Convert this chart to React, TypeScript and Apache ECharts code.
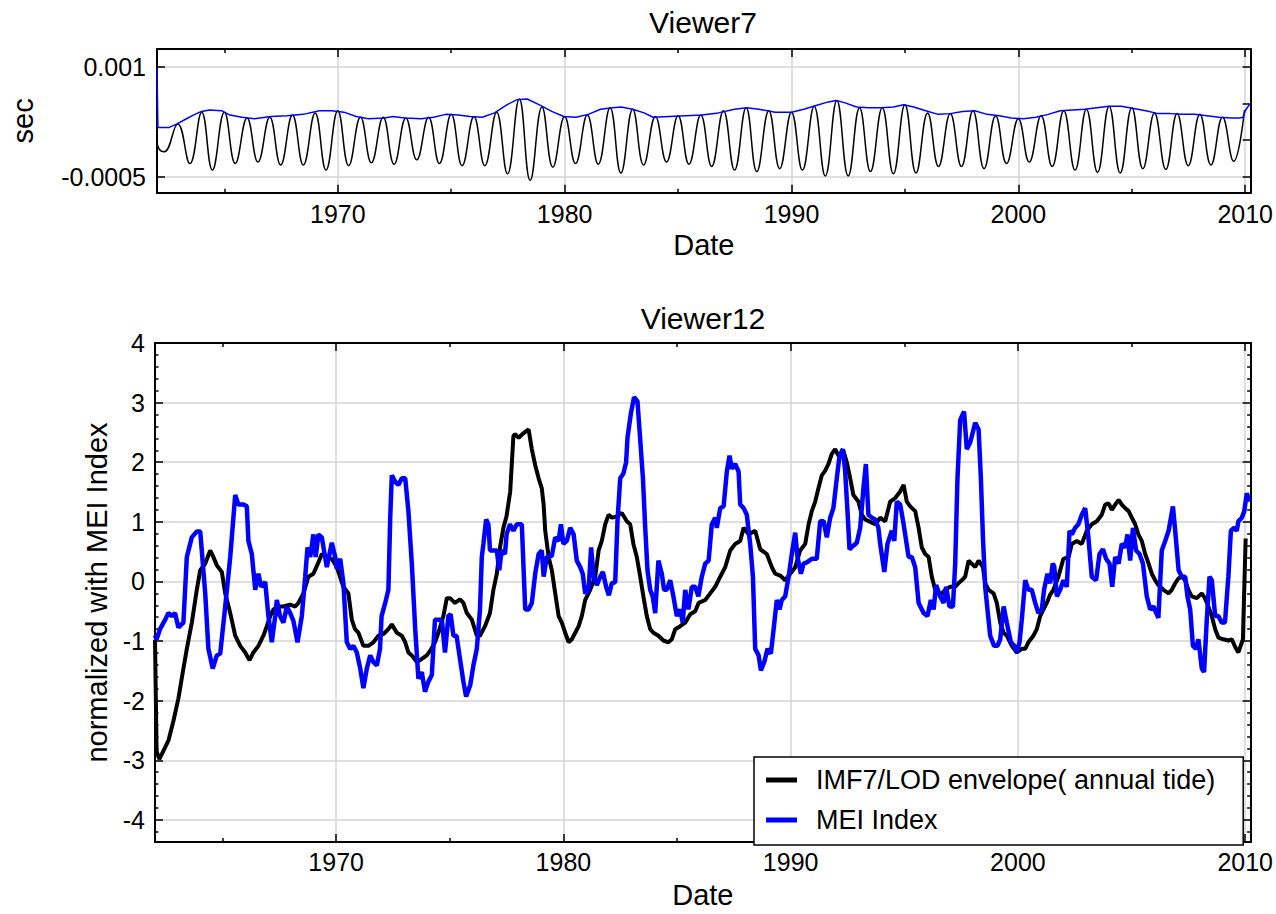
import React, { useEffect, useRef } from "react";
import * as echarts from "echarts";

const FONT = '"Liberation Sans", Arial, Helvetica, sans-serif';

// ---- Shared time axis (decimal years) ----
const yearMin = 1962.03;
const yearMax = 2010.24;
const decadeTicks = [1970, 1980, 1990, 2000, 2010];
const halfDecadeTicks = [1965, 1975, 1985, 1995, 2005];

// ---- Viewer7: IMF7 of LOD (sec) ----
const secMin = -0.000718;
const secMax = 0.001241;
const secLabelTicks = [-0.0005, 0.001];
const secAllTicks = [-0.0005, 0, 0.0005, 0.001];

// annual tide turning points (year, sec)
const tideYears = [
  1962.03, 1962.12, 1962.35, 1962.94, 1963.48, 1964.0, 1964.47, 1965.0, 1965.48, 1966.0,
  1966.48, 1967.0, 1967.48, 1968.0, 1968.48, 1969.0, 1969.48, 1970.0, 1970.48, 1971.0,
  1971.48, 1972.0, 1972.48, 1973.0, 1973.48, 1974.0, 1974.48, 1975.0, 1975.48, 1976.0,
  1976.48, 1977.0, 1977.48, 1978.0, 1978.48, 1979.0, 1979.48, 1980.0, 1980.48, 1981.0,
  1981.48, 1982.0, 1982.48, 1983.0, 1983.48, 1984.0, 1984.49, 1985.0, 1985.48, 1986.0,
  1986.48, 1987.0, 1987.49, 1988.0, 1988.47, 1989.0, 1989.48, 1990.0, 1990.48, 1991.0,
  1991.49, 1992.0, 1992.5, 1993.0, 1993.48, 1994.0, 1994.49, 1995.0, 1995.49, 1996.0,
  1996.48, 1997.0, 1997.49, 1998.0, 1998.49, 1999.0, 1999.48, 2000.0, 2000.48, 2001.0,
  2001.49, 2002.0, 2002.5, 2003.0, 2003.49, 2004.0, 2004.49, 2005.0, 2005.49, 2006.0,
  2006.5, 2007.0, 2007.49, 2008.0, 2008.49, 2009.0, 2009.49, 2009.97,
];
const tideSec = [
  0.0, -0.00012, -0.00016, 0.00022, -0.00032, 0.00038, -0.00041, 0.00038, -0.00032, 0.0003,
  -0.0003, 0.00031, -0.00034, 0.00034, -0.00034, 0.00037, -0.00041, 0.0004, -0.00035, 0.00031,
  -0.00031, 0.00031, -0.00033, 0.0003, -0.00027, 0.00031, -0.00032, 0.00035, -0.00035, 0.00032,
  -0.00035, 0.00038, -0.00046, 0.00056, -0.00055, 0.00045, -0.00037, 0.00032, -0.00032, 0.00034,
  -0.00033, 0.00044, -0.00045, 0.00042, -0.00034, 0.00032, -0.0003, 0.00033, -0.00033, 0.00034,
  -0.00036, 0.0004, -0.00041, 0.00044, -0.00043, 0.0004, -0.00039, 0.00038, -0.00041, 0.00046,
  -0.00049, 0.00054, -0.00049, 0.00044, -0.00043, 0.00044, -0.00046, 0.00048, -0.00045, 0.00037,
  -0.00036, 0.00036, -0.00036, 0.0004, -0.00039, 0.00033, -0.00032, 0.00029, -0.0003, 0.00033,
  -0.00036, 0.0004, -0.00041, 0.00042, -0.00044, 0.00046, -0.00045, 0.00044, -0.00039, 0.00037,
  -0.0004, 0.00036, -0.00035, 0.00035, -0.00034, 0.00031, -0.00029, 0.00041,
];

// upper envelope of the annual tide (year, sec)
const envelopeYears = [
  1962.03, 1962.07, 1962.55, 1962.91, 1963.27, 1963.63, 1963.99, 1964.34, 1964.88, 1965.24,
  1965.78, 1966.32, 1967.04, 1967.76, 1968.47, 1969.19, 1969.73, 1970.27, 1970.81, 1971.35,
  1972.06, 1972.42, 1972.96, 1973.68, 1974.22, 1974.76, 1975.3, 1975.83, 1976.37, 1976.91,
  1977.45, 1977.9, 1978.35, 1978.89, 1979.43, 1979.96, 1980.5, 1981.04, 1981.58, 1982.12,
  1982.48, 1983.0, 1983.5, 1983.9, 1984.61, 1985.33, 1986.05, 1986.77, 1987.49, 1988.03,
  1988.56, 1989.28, 1990.0, 1990.54, 1991.08, 1991.62, 1991.97, 1992.33, 1992.87, 1993.41,
  1993.95, 1994.49, 1994.94, 1995.39, 1995.92, 1996.46, 1997.0, 1997.54, 1998.08, 1998.62,
  1999.16, 1999.69, 2000.23, 2000.77, 2001.31, 2001.85, 2002.39, 2002.93, 2003.46, 2004.0,
  2004.54, 2005.08, 2005.62, 2006.16, 2006.7, 2007.24, 2007.77, 2008.31, 2008.85, 2009.39,
  2009.75, 2009.9, 2010.02, 2010.2,
];
const envelopeSec = [
  0.00098, 0.00017, 0.00017, 0.00022, 0.00028, 0.00034, 0.00039, 0.00041, 0.0004, 0.00034,
  0.00031, 0.00029, 0.00032, 0.00033, 0.00035, 0.0004, 0.0004, 0.00038, 0.00032, 0.00029,
  0.0003, 0.00032, 0.0003, 0.00029, 0.00031, 0.00035, 0.00034, 0.00032, 0.00031, 0.00037,
  0.00048, 0.00055, 0.00056, 0.00048, 0.00039, 0.00032, 0.00031, 0.00035, 0.00042, 0.00044,
  0.00045, 0.00042, 0.00037, 0.00031, 0.00032, 0.00033, 0.00034, 0.00037, 0.00042, 0.00044,
  0.00042, 0.00038, 0.00038, 0.00042, 0.00047, 0.00052, 0.00054, 0.00051, 0.00045, 0.00044,
  0.00044, 0.00045, 0.00048, 0.00045, 0.0004, 0.00035, 0.00036, 0.00039, 0.0004, 0.00035,
  0.00033, 0.0003, 0.00029, 0.00031, 0.00035, 0.0004, 0.00041, 0.00042, 0.00044, 0.00046,
  0.00046, 0.00043, 0.0004, 0.00036, 0.00036, 0.00035, 0.00035, 0.00033, 0.00031, 0.0003,
  0.0003, 0.00031, 0.00041, 0.00049,
];

// ---- Viewer12: normalized series ----
const normMin = -4.37;
const normMax = 4;
const normTicks = [-4, -3, -2, -1, 0, 1, 2, 3, 4];
const normMinorFractions = [0.2, 0.4, 0.6, 0.8];

const lodName = "IMF7/LOD envelope( annual tide)";
const meiName = "MEI Index";

const lodYears = [
  1962.03, 1962.1, 1962.22, 1962.4, 1962.62, 1962.84, 1963.06, 1963.28, 1963.43, 1963.65,
  1963.87, 1964.02, 1964.24, 1964.46, 1964.6, 1964.75, 1964.97, 1965.12, 1965.34, 1965.56,
  1965.78, 1966.0, 1966.19, 1966.36, 1966.58, 1966.8, 1966.95, 1967.1, 1967.24, 1967.46,
  1967.68, 1967.98, 1968.2, 1968.34, 1968.56, 1968.78, 1969.0, 1969.22, 1969.37, 1969.59,
  1969.81, 1970.03, 1970.32, 1970.54, 1970.69, 1970.83, 1970.98, 1971.2, 1971.42, 1971.64,
  1971.86, 1972.08, 1972.3, 1972.45, 1972.67, 1972.89, 1973.04, 1973.18, 1973.33, 1973.55,
  1973.77, 1973.99, 1974.14, 1974.35, 1974.5, 1974.72, 1974.87, 1975.01, 1975.23, 1975.45,
  1975.6, 1975.75, 1975.97, 1976.19, 1976.33, 1976.55, 1976.77, 1976.92, 1977.07, 1977.21,
  1977.36, 1977.5, 1977.66, 1977.8, 1977.88, 1978.03, 1978.25, 1978.47, 1978.61, 1978.76,
  1978.91, 1979.05, 1979.13, 1979.2, 1979.35, 1979.49, 1979.64, 1979.79, 1979.93, 1980.08,
  1980.23, 1980.37, 1980.52, 1980.67, 1980.81, 1980.96, 1981.18, 1981.4, 1981.55, 1981.69,
  1981.84, 1981.99, 1982.14, 1982.35, 1982.57, 1982.79, 1982.94, 1983.08, 1983.23, 1983.38,
  1983.52, 1983.67, 1983.82, 1983.96, 1984.18, 1984.4, 1984.62, 1984.77, 1984.92, 1985.14,
  1985.36, 1985.58, 1985.8, 1985.95, 1986.24, 1986.46, 1986.68, 1986.9, 1987.12, 1987.34,
  1987.56, 1987.78, 1987.93, 1988.15, 1988.44, 1988.66, 1988.95, 1989.17, 1989.32, 1989.54,
  1989.76, 1989.98, 1990.2, 1990.42, 1990.64, 1990.79, 1990.93, 1991.08, 1991.22, 1991.37,
  1991.52, 1991.66, 1991.81, 1991.96, 1992.1, 1992.32, 1992.47, 1992.62, 1992.76, 1992.98,
  1993.13, 1993.28, 1993.5, 1993.72, 1993.94, 1994.16, 1994.38, 1994.6, 1994.82, 1994.97,
  1995.11, 1995.26, 1995.48, 1995.63, 1995.77, 1995.92, 1996.07, 1996.21, 1996.36, 1996.5,
  1996.65, 1996.8, 1997.02, 1997.24, 1997.38, 1997.53, 1997.68, 1997.83, 1997.97, 1998.12,
  1998.27, 1998.46, 1998.56, 1998.71, 1998.93, 1999.07, 1999.22, 1999.37, 1999.51, 1999.73,
  1999.95, 2000.17, 2000.32, 2000.46, 2000.68, 2000.83, 2000.98, 2001.12, 2001.27, 2001.42,
  2001.56, 2001.78, 2001.86, 2002.0, 2002.23, 2002.37, 2002.59, 2002.81, 2003.03, 2003.25,
  2003.47, 2003.69, 2003.84, 2003.99, 2004.13, 2004.28, 2004.43, 2004.57, 2004.72, 2004.87,
  2005.01, 2005.16, 2005.3, 2005.45, 2005.6, 2005.75, 2005.89, 2006.04, 2006.18, 2006.4,
  2006.63, 2006.77, 2006.92, 2007.06, 2007.21, 2007.36, 2007.5, 2007.65, 2007.87, 2008.09,
  2008.23, 2008.38, 2008.53, 2008.68, 2008.82, 2009.04, 2009.26, 2009.41, 2009.56, 2009.7,
  2009.8, 2009.9, 2009.95, 2010.02,
];
const lodNorm = [
  -0.98, -2.85, -2.98, -2.84, -2.67, -2.34, -1.96, -1.46, -1.13, -0.69,
  -0.14, 0.19, 0.3, 0.52, 0.41, 0.27, 0.16, -0.2, -0.53, -0.91,
  -1.08, -1.19, -1.32, -1.19, -1.08, -0.91, -0.75, -0.58, -0.47, -0.42,
  -0.42, -0.39, -0.42, -0.36, -0.2, 0.08, 0.13, 0.32, 0.46, 0.41,
  0.38, 0.24, -0.09, -0.2, -0.64, -0.8, -0.86, -1.08, -1.08, -1.02,
  -0.91, -0.88, -0.8, -0.72, -0.86, -0.91, -1.02, -1.19, -1.24, -1.35,
  -1.3, -1.24, -1.16, -1.02, -0.86, -0.58, -0.28, -0.28, -0.36, -0.3,
  -0.36, -0.53, -0.64, -0.91, -0.91, -0.75, -0.53, -0.14, 0.13, 0.57,
  0.9, 1.1, 1.51, 2.44, 2.47, 2.41, 2.49, 2.55, 2.22, 1.95,
  1.73, 1.56, 1.29, 0.85, 0.41, 0.19, -0.2, -0.58, -0.69, -0.86,
  -1.02, -0.97, -0.86, -0.75, -0.58, -0.31, -0.14, 0.08, 0.52, 0.68,
  0.96, 1.12, 1.07, 1.09, 1.15, 1.01, 0.96, 0.63, 0.41, 0.08,
  -0.25, -0.58, -0.8, -0.86, -0.91, -0.99, -1.02, -0.97, -0.8, -0.75,
  -0.69, -0.55, -0.5, -0.36, -0.31, -0.2, -0.09, 0.08, 0.24, 0.52,
  0.63, 0.68, 0.9, 0.79, 0.85, 0.54, 0.46, 0.24, 0.13, 0.1,
  0.02, 0.13, 0.24, 0.52, 0.63, 0.96, 1.18, 1.34, 1.56, 1.78,
  1.86, 1.97, 2.14, 2.22, 2.11, 2.19, 2.0, 1.73, 1.45, 1.34,
  1.12, 1.04, 1.0, 0.96, 1.07, 1.01, 1.34, 1.4, 1.51, 1.62,
  1.34, 1.26, 1.18, 0.9, 0.57, 0.46, 0.41, 0.08, -0.14, -0.2,
  -0.2, -0.14, -0.09, -0.09, -0.03, 0.02, 0.08, 0.35, 0.3, 0.24,
  0.35, 0.24, -0.03, -0.14, -0.2, -0.36, -0.69, -0.86, -0.91, -1.08,
  -1.19, -1.13, -1.13, -1.02, -0.91, -0.8, -0.58, -0.47, -0.36, -0.22,
  -0.14, 0.08, 0.19, 0.38, 0.41, 0.63, 0.68, 0.63, 0.85, 0.96,
  1.01, 1.12, 1.29, 1.31, 1.2, 1.29, 1.37, 1.29, 1.23, 1.18,
  1.07, 0.96, 0.79, 0.68, 0.46, 0.3, 0.13, 0.02, -0.06, -0.14,
  -0.2, -0.14, -0.03, 0.05, 0.08, 0.02, -0.14, -0.25, -0.28, -0.2,
  -0.28, -0.42, -0.58, -0.8, -0.94, -0.97, -0.99, -0.97, -1.1, -1.19,
  -1.08, -0.97, -0.25, 0.72,
];

const meiYears = [
  1962.03, 1962.1, 1962.25, 1962.48, 1962.62, 1962.77, 1962.91, 1963.06, 1963.28, 1963.43,
  1963.65, 1963.87, 1964.02, 1964.24, 1964.38, 1964.57, 1964.75, 1964.9, 1965.12, 1965.34,
  1965.56, 1965.7, 1965.92, 1966.07, 1966.14, 1966.29, 1966.44, 1966.58, 1966.7, 1966.88,
  1967.02, 1967.17, 1967.32, 1967.39, 1967.53, 1967.68, 1967.83, 1967.98, 1968.12, 1968.3,
  1968.49, 1968.64, 1968.74, 1968.86, 1969.0, 1969.1, 1969.22, 1969.37, 1969.59, 1969.81,
  1969.96, 1970.03, 1970.18, 1970.32, 1970.47, 1970.62, 1970.76, 1970.91, 1971.06, 1971.2,
  1971.35, 1971.5, 1971.64, 1971.79, 1971.93, 1972.0, 1972.16, 1972.3, 1972.38, 1972.45,
  1972.6, 1972.74, 1972.89, 1973.04, 1973.18, 1973.33, 1973.48, 1973.62, 1973.77, 1973.91,
  1974.06, 1974.21, 1974.35, 1974.5, 1974.65, 1974.79, 1974.94, 1975.04, 1975.16, 1975.3,
  1975.45, 1975.6, 1975.72, 1975.9, 1976.04, 1976.19, 1976.33, 1976.41, 1976.48, 1976.6,
  1976.7, 1976.77, 1976.92, 1977.07, 1977.18, 1977.28, 1977.43, 1977.5, 1977.65, 1977.8,
  1977.95, 1978.17, 1978.32, 1978.47, 1978.61, 1978.76, 1978.91, 1979.05, 1979.13, 1979.27,
  1979.49, 1979.64, 1979.79, 1979.89, 1980.0, 1980.15, 1980.3, 1980.45, 1980.59, 1980.74,
  1980.85, 1980.96, 1981.11, 1981.22, 1981.33, 1981.47, 1981.62, 1981.74, 1981.88, 1982.0,
  1982.13, 1982.28, 1982.38, 1982.5, 1982.64, 1982.76, 1982.82, 1982.97, 1983.11, 1983.26,
  1983.38, 1983.5, 1983.6, 1983.7, 1983.82, 1983.93, 1984.04, 1984.18, 1984.33, 1984.43,
  1984.55, 1984.7, 1984.84, 1984.99, 1985.14, 1985.25, 1985.36, 1985.5, 1985.65, 1985.8,
  1985.94, 1986.09, 1986.24, 1986.39, 1986.53, 1986.68, 1986.75, 1986.9, 1987.05, 1987.19,
  1987.31, 1987.41, 1987.56, 1987.71, 1987.78, 1987.93, 1988.07, 1988.22, 1988.34, 1988.44,
  1988.59, 1988.69, 1988.84, 1988.98, 1989.13, 1989.25, 1989.39, 1989.51, 1989.61, 1989.76,
  1989.91, 1990.05, 1990.2, 1990.3, 1990.45, 1990.57, 1990.71, 1990.93, 1991.15, 1991.3,
  1991.45, 1991.59, 1991.74, 1991.88, 1992.03, 1992.15, 1992.3, 1992.4, 1992.5, 1992.59,
  1992.76, 1992.91, 1993.06, 1993.2, 1993.31, 1993.42, 1993.57, 1993.72, 1993.86, 1993.94,
  1994.12, 1994.26, 1994.45, 1994.56, 1994.67, 1994.82, 1994.97, 1995.19, 1995.33, 1995.48,
  1995.63, 1995.85, 1996.02, 1996.17, 1996.29, 1996.4, 1996.58, 1996.73, 1996.84, 1996.99,
  1997.14, 1997.24, 1997.34, 1997.46, 1997.63, 1997.75, 1997.9, 1998.12, 1998.27, 1998.37,
  1998.46, 1998.56, 1998.66, 1998.78, 1998.95, 1999.1, 1999.22, 1999.37, 1999.51, 1999.69,
  1999.84, 1999.95, 2000.07, 2000.17, 2000.32, 2000.46, 2000.61, 2000.76, 2000.9, 2001.05,
  2001.15, 2001.3, 2001.42, 2001.53, 2001.6, 2001.71, 2001.86, 2002.0, 2002.15, 2002.27,
  2002.37, 2002.52, 2002.66, 2002.81, 2002.96, 2003.1, 2003.25, 2003.44, 2003.59, 2003.74,
  2003.88, 2004.03, 2004.15, 2004.28, 2004.43, 2004.57, 2004.72, 2004.82, 2004.94, 2005.06,
  2005.2, 2005.35, 2005.5, 2005.67, 2005.82, 2005.96, 2006.18, 2006.33, 2006.48, 2006.63,
  2006.82, 2006.92, 2007.07, 2007.21, 2007.36, 2007.46, 2007.58, 2007.7, 2007.84, 2007.94,
  2008.09, 2008.19, 2008.31, 2008.43, 2008.53, 2008.68, 2008.82, 2008.97, 2009.11, 2009.26,
  2009.37, 2009.52, 2009.63, 2009.7, 2009.85, 2009.96, 2010.07, 2010.19,
];
const meiNorm = [
  -0.9, -0.97, -0.8, -0.64, -0.53, -0.58, -0.53, -0.77, -0.69, 0.41,
  0.74, 0.84, 0.84, -0.2, -1.13, -1.46, -1.24, -1.21, -0.42, 0.41,
  1.45, 1.29, 1.29, 1.26, 0.68, 0.46, -0.14, 0.13, -0.09, -0.01,
  -0.58, -1.02, -0.58, -0.31, -0.58, -0.69, -0.42, -0.53, -0.66, -1.02,
  -0.58, 0.08, 0.57, 0.41, 0.79, 0.41, 0.79, 0.74, 0.24, 0.65,
  0.41, 0.21, 0.38, -0.03, -1.02, -1.13, -1.08, -1.19, -1.46, -1.79,
  -1.46, -1.24, -1.35, -1.41, -1.13, -0.58, -0.36, -0.14, 1.07, 1.78,
  1.67, 1.62, 1.73, 1.73, 1.18, 0.3, -0.8, -1.63, -1.52, -1.85,
  -1.68, -1.57, -0.64, -0.64, -0.64, -1.19, -0.58, -0.55, -0.91, -0.91,
  -1.3, -1.68, -1.93, -1.74, -1.41, -1.13, -0.47, 0.41, 0.63, 1.04,
  0.96, 0.52, 0.52, 0.52, 0.19, 0.52, 0.46, 0.79, 0.96, 0.85,
  0.96, 0.96, -0.47, -0.47, -0.36, 0.13, 0.46, 0.52, 0.08, 0.41,
  0.43, 0.74, 0.68, 0.96, 0.63, 0.68, 0.9, 0.79, 0.35, 0.24,
  0.13, -0.2, -0.14, 0.57, 0.08, -0.06, 0.08, 0.16, -0.09, -0.23,
  -0.03, -0.01, 1.01, 1.73, 1.81, 2.0, 2.41, 2.82, 3.09, 3.02,
  2.38, 1.73, 0.9, 0.19, -0.14, -0.25, -0.53, 0.35, 0.13, -0.14,
  -0.14, 0.02, -0.25, -0.58, -0.47, -0.69, -0.14, -0.47, -0.09, -0.09,
  -0.25, 0.08, 0.3, 0.35, 0.96, 1.07, 0.9, 1.23, 1.26, 1.84,
  2.11, 1.89, 1.97, 1.84, 1.29, 1.23, 1.12, 0.63, 0.08, -1.13,
  -1.24, -1.49, -1.35, -1.13, -1.21, -0.8, -0.31, -0.47, -0.31, -0.25,
  0.08, 0.46, 0.82, 0.41, 0.13, 0.3, 0.32, 0.38, 0.38, 1.01,
  1.01, 0.74, 1.07, 1.23, 1.73, 2.11, 2.22, 1.84, 1.18, 0.54,
  0.6, 0.65, 0.9, 1.56, 1.97, 1.12, 1.07, 1.04, 0.9, 0.63,
  0.16, 0.63, 0.85, 0.68, 1.34, 1.29, 0.96, 0.41, 0.41, 0.24,
  -0.36, -0.53, -0.58, -0.31, -0.47, -0.06, -0.25, -0.36, -0.09, -0.42,
  -0.42, 0.3, 1.73, 2.71, 2.85, 2.22, 2.33, 2.66, 2.55, 1.73,
  0.74, -0.09, -0.47, -0.91, -1.08, -1.08, -0.97, -0.42, -0.69, -1.02,
  -1.08, -1.19, -1.02, -0.64, 0.02, -0.14, -0.14, -0.36, -0.53, -0.47,
  -0.14, 0.13, -0.03, 0.3, 0.25, -0.25, -0.14, 0.02, -0.09, 0.85,
  0.79, 0.9, 0.96, 1.12, 1.23, 0.74, 0.08, 0.02, 0.46, 0.54,
  0.38, 0.3, -0.09, 0.41, 0.3, 0.63, 0.57, 0.79, 0.35, 0.9,
  0.52, 0.46, 0.3, -0.25, -0.47, -0.42, -0.61, 0.52, 0.68, 0.85,
  1.26, 0.85, 0.19, 0.08, 0.08, -0.25, -0.47, -1.08, -1.13, -0.97,
  -1.46, -1.52, -0.64, 0.08, 0.02, -0.58, -0.58, -0.69, -0.69, 0.08,
  0.85, 0.9, 0.85, 1.01, 1.07, 1.18, 1.48, 1.34,
];

const zip = (xs: number[], ys: number[]) => xs.map((x, i) => [x, ys[i]]);

const normMinorTicks: number[] = [];
normTicks.forEach((t) => {
  normMinorFractions.forEach((f) => {
    const v = +(t + f).toFixed(2);
    if (v < normMax) normMinorTicks.push(v);
    const w = +(t - f).toFixed(2);
    if (t === normTicks[0] && w > normMin) normMinorTicks.push(w);
  });
});

// ---- styling ----
const BLACK = "#000000";
const BLUE = "#0000ff";
const axisLine = { show: true, onZero: false, lineStyle: { color: BLACK, width: 2 } };
const gridLine = { show: true, lineStyle: { color: "#d4d4d4", width: 1.5 } };
const tickStyle = { color: BLACK, width: 1.5 };
const labelText = { color: BLACK, fontSize: 25, fontFamily: FONT };
const nameText = { color: BLACK, fontSize: 29, fontFamily: FONT };

function timeAxes(gridIndex: number, labelMargin: number) {
  const base = { type: "value", gridIndex, min: yearMin, max: yearMax };
  return [
    {
      ...base,
      position: "bottom",
      axisLine,
      axisTick: { show: true, inside: true, length: 8, customValues: decadeTicks, lineStyle: tickStyle },
      axisLabel: {
        show: true,
        customValues: decadeTicks,
        margin: labelMargin,
        formatter: (v: number) => String(v),
        ...labelText,
      },
      splitLine: gridLine,
      name: "Date",
      nameLocation: "middle",
      nameGap: 38,
      nameTextStyle: nameText,
    },
    {
      ...base,
      position: "bottom",
      axisLine: { show: false, onZero: false },
      axisTick: { show: true, inside: true, length: 4, customValues: halfDecadeTicks, lineStyle: tickStyle },
      axisLabel: { show: false },
      splitLine: { show: false },
    },
    {
      ...base,
      position: "top",
      axisLine,
      axisTick: { show: true, inside: true, length: 8, customValues: decadeTicks, lineStyle: tickStyle },
      axisLabel: { show: false },
      splitLine: { show: false },
    },
    {
      ...base,
      position: "top",
      axisLine: { show: false, onZero: false },
      axisTick: { show: true, inside: true, length: 4, customValues: halfDecadeTicks, lineStyle: tickStyle },
      axisLabel: { show: false },
      splitLine: { show: false },
    },
  ];
}

const option: any = {
  animation: false,
  backgroundColor: "#ffffff",
  textStyle: { fontFamily: FONT },
  graphic: [
    {
      type: "text",
      x: 703,
      y: 22,
      style: {
        text: "Viewer7",
        fontSize: 30,
        fontFamily: FONT,
        fill: BLACK,
        textAlign: "center",
        textVerticalAlign: "middle",
        verticalAlign: "middle",
      },
    },
    {
      type: "text",
      x: 703,
      y: 318,
      style: {
        text: "Viewer12",
        fontSize: 30,
        fontFamily: FONT,
        fill: BLACK,
        textAlign: "center",
        textVerticalAlign: "middle",
        verticalAlign: "middle",
      },
    },
  ],
  grid: [
    { left: 155, top: 49, width: 1095.7, height: 143.7, containLabel: false },
    { left: 155, top: 343, width: 1095.7, height: 505.3, containLabel: false },
  ],
  xAxis: [...timeAxes(0, 9), ...timeAxes(1, 7)],
  yAxis: [
    {
      type: "value",
      gridIndex: 0,
      position: "left",
      min: secMin,
      max: secMax,
      axisLine,
      axisTick: { show: true, inside: true, length: 8, customValues: secLabelTicks, lineStyle: tickStyle },
      axisLabel: {
        show: true,
        customValues: secLabelTicks,
        margin: 11,
        formatter: (v: number) => String(v),
        ...labelText,
      },
      splitLine: gridLine,
      name: "sec",
      nameLocation: "middle",
      nameGap: 120,
      nameTextStyle: nameText,
    },
    {
      type: "value",
      gridIndex: 0,
      position: "right",
      min: secMin,
      max: secMax,
      axisLine,
      axisTick: { show: true, inside: true, length: 8, customValues: secAllTicks, lineStyle: tickStyle },
      axisLabel: { show: false },
      splitLine: { show: false },
    },
    {
      type: "value",
      gridIndex: 1,
      position: "left",
      min: normMin,
      max: normMax,
      axisLine,
      axisTick: { show: true, inside: true, length: 8, customValues: normTicks, lineStyle: tickStyle },
      axisLabel: {
        show: true,
        customValues: normTicks,
        margin: 10,
        formatter: (v: number) => String(v),
        ...labelText,
      },
      splitLine: gridLine,
      name: "normalized with MEI Index",
      nameLocation: "middle",
      nameGap: 33,
      nameTextStyle: nameText,
    },
    {
      type: "value",
      gridIndex: 1,
      position: "left",
      min: normMin,
      max: normMax,
      axisLine: { show: false, onZero: false },
      axisTick: { show: true, inside: true, length: 3.5, customValues: normMinorTicks, lineStyle: tickStyle },
      axisLabel: { show: false },
      splitLine: { show: false },
    },
    {
      type: "value",
      gridIndex: 1,
      position: "right",
      min: normMin,
      max: normMax,
      axisLine,
      axisTick: { show: true, inside: true, length: 8, customValues: normTicks, lineStyle: tickStyle },
      axisLabel: { show: false },
      splitLine: { show: false },
    },
    {
      type: "value",
      gridIndex: 1,
      position: "right",
      min: normMin,
      max: normMax,
      axisLine: { show: false, onZero: false },
      axisTick: { show: true, inside: true, length: 3.5, customValues: normMinorTicks, lineStyle: tickStyle },
      axisLabel: { show: false },
      splitLine: { show: false },
    },
  ],
  legend: {
    data: [lodName, meiName],
    orient: "vertical",
    left: 754,
    top: 757,
    icon: "rect",
    itemWidth: 31,
    itemHeight: 5,
    itemGap: 10,
    padding: [8, 28, 10, 12],
    backgroundColor: "#ffffff",
    borderColor: BLACK,
    borderWidth: 1.5,
    borderRadius: 0,
    selectedMode: false,
    textStyle: {
      color: BLACK,
      fontSize: 27,
      fontFamily: FONT,
      lineHeight: 30,
      padding: [0, 0, 0, 14],
    },
  },
  series: [
    {
      type: "line",
      xAxisIndex: 0,
      yAxisIndex: 0,
      data: zip(tideYears, tideSec),
      smooth: 0.45,
      showSymbol: false,
      color: BLACK,
      lineStyle: { color: BLACK, width: 1.5 },
      z: 2,
    },
    {
      type: "line",
      xAxisIndex: 0,
      yAxisIndex: 0,
      data: zip(envelopeYears, envelopeSec),
      showSymbol: false,
      color: BLUE,
      lineStyle: { color: BLUE, width: 1.5 },
      z: 3,
    },
    {
      name: lodName,
      type: "line",
      xAxisIndex: 4,
      yAxisIndex: 2,
      data: zip(lodYears, lodNorm),
      showSymbol: false,
      color: BLACK,
      itemStyle: { color: BLACK },
      lineStyle: { color: BLACK, width: 4 },
      z: 2,
    },
    {
      name: meiName,
      type: "line",
      xAxisIndex: 4,
      yAxisIndex: 2,
      data: zip(meiYears, meiNorm),
      showSymbol: false,
      color: BLUE,
      itemStyle: { color: BLUE },
      lineStyle: { color: BLUE, width: 4.5 },
      z: 3,
    },
  ],
};

export default function App() {
  const ref = useRef<HTMLDivElement>(null);
  useEffect(() => {
    if (!ref.current) return;
    const chart = echarts.init(ref.current, null, { renderer: "svg" });
    chart.setOption(option);
    return () => chart.dispose();
  }, []);
  return (
    <div
      ref={ref}
      style={{ position: "fixed", left: 0, top: 0, width: 1276, height: 914, background: "#ffffff" }}
    />
  );
}
